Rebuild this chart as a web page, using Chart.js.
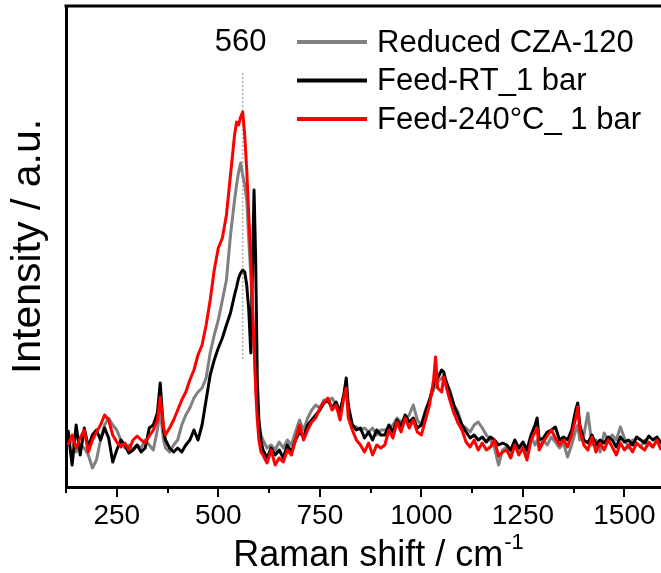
<!DOCTYPE html>
<html>
<head>
<meta charset="utf-8">
<script src="https://cdn.jsdelivr.net/npm/chart.js@4"></script>
<style>
  html, body { margin: 0; padding: 0; background: #fff; }
  #wrap { width: 661px; height: 573px; }
</style>
</head>
<body>
<div id="wrap"><canvas id="myChart" width="661" height="573"></canvas></div>
<script>
// Raman shift (cm-1), shared by all three spectra
const shift = [
  130,140,150,160,170,180,190,200,210,220,
  230,240,250,260,270,280,290,300,310,320,
  330,340,350,357,365,370,380,390,400,410,
  420,430,440,450,460,470,480,490,500,510,
  520,530,540,545,550,555,560,565,570,575,
  580,585,588,592,596,600,605,610,620,630,
  640,650,660,670,680,690,700,710,720,730,
  740,750,760,770,780,790,800,810,815,820,
  830,840,850,860,870,880,890,900,910,920,
  930,940,950,960,970,980,990,1000,1010,1020,
  1030,1035,1040,1050,1055,1060,1070,1080,1090,1100,
  1110,1120,1130,1140,1150,1160,1170,1180,1190,1200,
  1210,1220,1230,1240,1250,1260,1270,1280,1285,1290,
  1300,1310,1320,1330,1340,1350,1360,1370,1380,1385,
  1390,1400,1410,1420,1430,1440,1450,1460,1470,1480,
  1490,1500,1510,1520,1530,1540,1550,1560,1570,1580,
  1590
];

// intensities (a.u.)
const reduced = [
  42,47,35,42,39,32,19,27,47,62,
  69,62,57,47,39,42,37,42,39,47,
  42,37,57,77,47,39,35,42,47,62,
  72,79,89,95,99,109,134,152,167,187,
  207,252,287,302,315,324,312,302,287,247,
  212,167,142,107,77,62,52,47,39,42,
  37,45,39,47,42,55,67,57,69,77,
  82,79,87,85,89,82,77,92,102,77,
  62,60,57,59,55,59,52,57,57,59,
  62,69,65,67,72,82,67,62,77,87,
  97,102,105,109,112,104,97,82,75,62,
  59,55,62,65,59,52,47,39,22,37,
  40,35,45,37,42,32,50,42,47,40,
  47,42,50,45,39,44,30,42,57,62,
  47,52,74,42,47,35,54,47,52,47,
  60,49,39,47,44,40,47,42,40,47,
  42
];
const feedRT = [
  57,22,62,32,59,40,52,57,47,59,
  49,25,37,47,42,34,37,42,35,39,
  59,62,74,104,57,47,39,35,39,35,
  42,47,57,47,62,87,112,127,139,149,
  162,174,192,200,209,214,217,215,202,177,
  134,237,297,227,107,67,47,37,29,39,
  32,37,29,42,35,47,55,50,62,67,
  72,77,84,87,79,85,75,95,109,82,
  62,57,59,49,55,47,57,52,52,62,
  55,67,61,72,65,69,59,62,75,87,
  102,117,109,117,115,107,95,82,72,62,
  55,49,52,47,50,45,50,47,42,44,
  42,37,47,39,45,37,52,62,69,47,
  49,55,57,60,47,50,47,57,77,84,
  62,47,44,52,42,47,44,50,47,40,
  50,45,47,42,50,47,44,51,47,50,
  44
];
const feed240 = [
  42,52,39,49,57,35,47,55,62,72,
  67,52,45,40,44,37,47,51,47,44,
  51,57,67,90,60,52,59,67,77,87,
  95,107,117,132,142,162,187,217,239,249,
  272,312,352,365,362,370,375,352,317,272,
  227,172,142,97,67,47,35,32,24,37,
  22,29,25,37,32,47,62,47,57,65,
  69,79,85,89,77,82,67,92,99,69,
  57,47,42,35,44,32,42,39,42,57,
  49,65,55,69,59,67,55,52,67,82,
  107,130,99,95,110,102,87,74,64,57,
  45,40,47,37,44,37,40,47,31,35,
  37,29,42,32,39,27,47,55,59,37,
  45,51,57,49,42,47,40,52,69,80,
  57,42,37,50,35,44,37,47,40,32,
  44,37,42,35,44,40,37,45,40,47,
  37
];

const seriesNames = ['Reduced CZA-120', 'Feed-RT_1 bar', 'Feed-240\u00b0C_ 1 bar'];
const xMajor = [250, 500, 750, 1000, 1250, 1500];
const xMinor = [125, 375, 625, 875, 1125, 1375];
const peakMark = 560;     // dotted marker position
const markTop = 414;      // marker extent in intensity units
const markBottom = 127;
const markLabelY = 445;

const FONT = "'Liberation Sans', Arial, sans-serif";
Chart.defaults.font.family = FONT;
Chart.defaults.color = '#000';

function pts(ys) {
  return shift.map((x, i) => ({ x: x, y: ys[i] }));
}

// top frame, x tick marks and the x title with its superscript
const framePlugin = {
  id: 'frame',
  afterDraw(chart) {
    const ctx = chart.ctx, a = chart.chartArea, xs = chart.scales.x;
    ctx.save();
    ctx.strokeStyle = '#000';
    ctx.lineWidth = 3;
    ctx.beginPath();
    ctx.moveTo(a.left - 1.5, a.top);
    ctx.lineTo(a.right, a.top);
    ctx.stroke();
    ctx.lineWidth = 2;
    xMajor.concat(xMinor).forEach(v => {
      const px = Math.round(xs.getPixelForValue(v));
      const len = xMajor.includes(v) ? 10 : 6;
      ctx.beginPath();
      ctx.moveTo(px, a.bottom);
      ctx.lineTo(px, a.bottom + len);
      ctx.stroke();
    });

    const main = 'Raman shift / cm', sup = '-1';
    ctx.fillStyle = '#000';
    ctx.textAlign = 'left';
    ctx.textBaseline = 'alphabetic';
    ctx.font = '36px ' + FONT;
    const w1 = ctx.measureText(main).width;
    ctx.font = '22px ' + FONT;
    const w2 = ctx.measureText(sup).width;
    const x0 = 378 - (w1 + w2) / 2;
    ctx.font = '36px ' + FONT;
    ctx.fillText(main, x0, 566);
    ctx.font = '22px ' + FONT;
    ctx.fillText(sup, x0 + w1 + 1, 549);
    ctx.restore();
  }
};

// dotted guide at 560 and its label
const markPlugin = {
  id: 'mark',
  beforeDatasetsDraw(chart) {
    const ctx = chart.ctx, xs = chart.scales.x, ys = chart.scales.y;
    const px = xs.getPixelForValue(peakMark);
    ctx.save();
    ctx.strokeStyle = '#b4b4b4';
    ctx.lineWidth = 1.5;
    ctx.setLineDash([2, 2]);
    ctx.beginPath();
    ctx.moveTo(px, ys.getPixelForValue(markTop));
    ctx.lineTo(px, ys.getPixelForValue(markBottom));
    ctx.stroke();
    ctx.setLineDash([]);
    ctx.fillStyle = '#000';
    ctx.font = '31px ' + FONT;
    ctx.textAlign = 'center';
    ctx.textBaseline = 'middle';
    ctx.fillText(String(peakMark), px - 2, ys.getPixelForValue(markLabelY));
    ctx.restore();
  }
};

// legend inside the plot, top right
const legendPlugin = {
  id: 'insideLegend',
  afterDatasetsDraw(chart) {
    const ctx = chart.ctx;
    ctx.save();
    ctx.font = '31px ' + FONT;
    ctx.textBaseline = 'middle';
    ctx.textAlign = 'left';
    chart.data.datasets.forEach((ds, i) => {
      const y = 42 + i * 38.5;
      ctx.strokeStyle = ds.borderColor;
      ctx.lineWidth = 4;
      ctx.beginPath();
      ctx.moveTo(297, y);
      ctx.lineTo(367, y);
      ctx.stroke();
      ctx.fillStyle = '#000';
      ctx.fillText(ds.label, 377, y + 1);
    });
    ctx.restore();
  }
};

const data = {
  datasets: [
    { label: seriesNames[0], data: pts(reduced), borderColor: '#808080', order: 2 },
    { label: seriesNames[1], data: pts(feedRT), borderColor: '#000000', order: 1 },
    { label: seriesNames[2], data: pts(feed240), borderColor: '#ff0000', order: 0 },
  ],
};

const config = {
  type: 'line',
  data: data,
  options: {
    responsive: false,
    animation: false,
    layout: { padding: { top: 6, left: 0, right: 0, bottom: 0 } },
    elements: {
      point: { radius: 0 },
      line: { borderWidth: 3, tension: 0, borderJoinStyle: 'round' },
    },
    plugins: { legend: { display: false }, tooltip: { enabled: false } },
    scales: {
      x: {
        type: 'linear',
        min: 125,
        max: 1590,
        afterBuildTicks: (s) => { s.ticks = xMajor.map(v => ({ value: v })); },
        afterFit: (s) => { s.height = 86; s.paddingLeft = 0; s.paddingRight = 0; },
        grid: { display: false, drawTicks: false },
        border: { display: true, width: 3, color: '#000' },
        ticks: {
          autoSkip: false,
          maxRotation: 0,
          padding: 12,
          font: { size: 28 },
          callback: (v) => String(v),
        },
        title: { display: false },
      },
      y: {
        min: 0,
        max: 481,
        afterFit: (s) => { s.width = 66; },
        grid: { display: false, drawTicks: false },
        border: { display: true, width: 3, color: '#000' },
        ticks: { display: false },
        title: {
          display: true,
          text: 'Intensity / a.u.',
          font: { size: 41 },
          padding: { top: 4, bottom: 0 },
        },
      },
    },
  },
  plugins: [markPlugin, legendPlugin, framePlugin],
};

const myChart = new Chart(document.getElementById('myChart'), config);
</script>
</body>
</html>
